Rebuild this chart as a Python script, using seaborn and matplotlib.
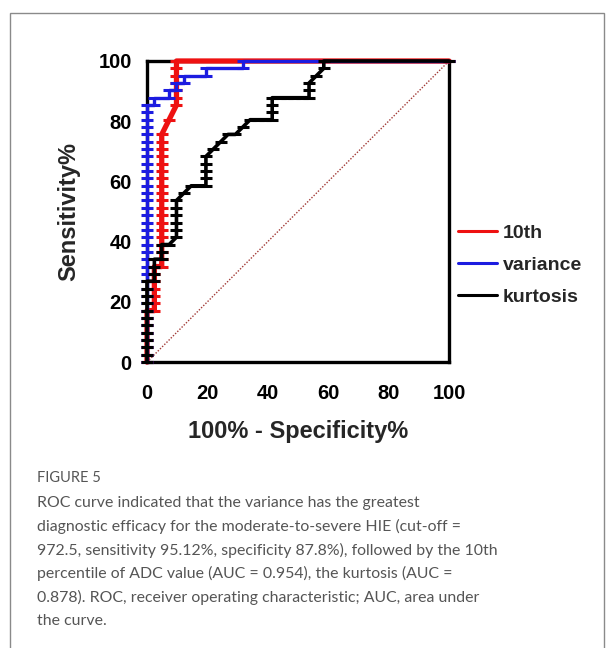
import matplotlib
matplotlib.use("Agg")
import matplotlib.pyplot as plt
from matplotlib.lines import Line2D
from matplotlib.patches import Rectangle
import seaborn as sns
import pandas as pd

# ---------------- data (% values) ----------------
p10_fpr = [0, 0, 0, 0, 0, 0, 0, 0,
           2.44, 2.44, 2.44, 2.44, 2.44, 2.44, 2.44,
           4.88, 4.88, 4.88, 4.88, 4.88, 4.88, 4.88, 4.88, 4.88, 4.88,
           4.88, 4.88, 4.88, 4.88, 4.88, 4.88, 4.88, 4.88, 4.88,
           7.32, 9.76, 9.76, 9.76, 9.76, 9.76, 9.76, 9.76, 100]
p10_tpr = [0, 2.44, 4.88, 7.32, 9.76, 12.2, 14.63, 17.07,
           17.07, 19.51, 21.95, 24.39, 26.83, 29.27, 31.71,
           31.71, 34.15, 36.59, 39.02, 41.46, 43.9, 46.34, 48.78, 51.22, 53.66,
           56.1, 58.54, 60.98, 63.41, 65.85, 68.29, 70.73, 73.17, 75.61,
           80.49, 85.37, 87.8, 90.24, 92.68, 95.12, 97.56, 100, 100]

var_fpr = [0, 0, 0, 0, 0, 0, 0, 0, 0, 0, 0, 0,
           0, 0, 0, 0, 0, 0, 0, 0, 0, 0, 0, 0,
           0, 0, 0, 0, 0, 0, 0, 0, 0, 0, 0, 0,
           2.44, 2.44, 7.32, 7.32, 9.76, 9.76, 12.2, 12.2,
           19.51, 19.51, 31.71, 31.71, 100]
var_tpr = [0, 2.44, 4.88, 7.32, 9.76, 12.2, 14.63, 17.07, 19.51, 21.95, 24.39, 26.83,
           29.27, 31.71, 34.15, 36.59, 39.02, 41.46, 43.9, 46.34, 48.78, 51.22, 53.66, 56.1,
           58.54, 60.98, 63.41, 65.85, 68.29, 70.73, 73.17, 75.61, 78.05, 80.49, 82.93, 85.37,
           85.37, 87.8, 87.8, 90.24, 90.24, 92.68, 92.68, 95.12,
           95.12, 97.56, 97.56, 100, 100]

kurt_fpr = [0, 0, 0, 0, 0, 0, 0, 0, 0, 0, 0, 0,
            2.44, 2.44, 2.44, 2.44,
            4.88, 4.88, 4.88,
            7.32,
            9.76, 9.76, 9.76, 9.76, 9.76, 9.76,
            12.2, 14.63, 17.07,
            19.51, 19.51, 19.51, 19.51, 19.51,
            21.95, 24.39, 26.83, 29.27, 31.71, 34.15,
            36.59, 39.02, 41.46, 41.46, 41.46, 41.46,
            43.9, 46.34, 48.78, 51.22, 53.66, 53.66, 53.66,
            56.1, 58.54, 58.54, 100]
kurt_tpr = [0, 2.44, 4.88, 7.32, 9.76, 12.2, 14.63, 17.07, 19.51, 21.95, 24.39, 26.83,
            26.83, 29.27, 31.71, 34.15,
            34.15, 36.59, 39.02,
            39.02,
            41.46, 43.9, 46.34, 48.78, 51.22, 53.66,
            56.1, 58.54, 58.54,
            58.54, 60.98, 63.41, 65.85, 68.29,
            70.73, 73.17, 75.61, 75.61, 78.05, 80.49,
            80.49, 80.49, 80.49, 82.93, 85.37, 87.8,
            87.8, 87.8, 87.8, 87.8, 87.8, 90.24, 92.68,
            95.12, 97.56, 100, 100]

chance_x = [0, 100]
chance_y = [0, 100]

series_names = ["10th", "variance", "kurtosis"]
series_colors = ["#ee1111", "#1c1ce0", "#000000"]

x_ticks = [0, 20, 40, 60, 80, 100]
y_ticks = [0, 20, 40, 60, 80, 100]

caption_head = "FIGURE 5"
caption_lines = [
    "ROC curve indicated that the variance has the greatest",
    "diagnostic efficacy for the moderate-to-severe HIE (cut-off =",
    "972.5, sensitivity 95.12%, specificity 87.8%), followed by the 10th",
    "percentile of ADC value (AUC = 0.954), the kurtosis (AUC =",
    "0.878). ROC, receiver operating characteristic; AUC, area under",
    "the curve.",
]

# ---------------- figure ----------------
sns.set_style("white")
plt.rcParams["font.family"] = ["Liberation Sans", "DejaVu Sans"]

W, H = 616, 648
fig = plt.figure(figsize=(W / 100, H / 100), dpi=100)
fig.patch.set_facecolor("white")

# outer frame of the figure panel
fig.add_artist(Rectangle((9.5 / W, -0.01), (604 - 9.5) / W, 1 - 12.5 / H + 0.01,
                         transform=fig.transFigure, fill=False,
                         edgecolor="#8a8a8a", linewidth=1.0))

ax = fig.add_axes([147 / W, 1 - 362 / H, 302 / W, 301 / H])

ax.plot(chance_x, chance_y, linestyle=(0, (1, 1.2)), color="#a23a36",
        linewidth=1.0, zorder=2)

curves = [
    (p10_fpr, p10_tpr, series_colors[0], 3.8, 3),
    (var_fpr, var_tpr, series_colors[1], 2.4, 4),
    (kurt_fpr, kurt_tpr, series_colors[2], 2.6, 5),
]
for fx, ty, col, lw, z in curves:
    df = pd.DataFrame({"fpr": fx, "tpr": ty})
    sns.lineplot(data=df, x="fpr", y="tpr", sort=False, estimator=None,
                 color=col, linewidth=lw, marker="_", markersize=9,
                 markeredgewidth=2.2, markeredgecolor=col,
                 clip_on=False, zorder=z, ax=ax, legend=False)

ax.set_xlim(0, 100)
ax.set_ylim(0, 100)
ax.set_xticks(x_ticks)
ax.set_yticks(y_ticks)
for s in ax.spines.values():
    s.set_visible(True)
    s.set_color("black")
    s.set_linewidth(2.4)
    s.set_zorder(1)
ax.tick_params(axis="both", direction="out", length=8, width=2.4,
               labelsize=14.5, colors="black")
ax.tick_params(axis="x", pad=8)
ax.tick_params(axis="y", pad=3)
for lbl in ax.get_xticklabels() + ax.get_yticklabels():
    lbl.set_fontweight("bold")

ax.set_xlabel("100% - Specificity%", fontsize=17, fontweight="bold", labelpad=12)
ax.set_ylabel("Sensitivity%", fontsize=17, fontweight="bold", labelpad=13)
ax.set_facecolor("white")

handles = [Line2D([0], [0], color=c, linewidth=2.2) for c in series_colors]
fig.legend(handles, series_names, loc="upper left",
           bbox_to_anchor=(458 / W, 1 - 224 / H), frameon=False,
           prop={"family": "Liberation Sans", "weight": "bold", "size": 14},
           handlelength=2.0, handletextpad=0.3, labelspacing=0.75,
           borderpad=0, borderaxespad=0)

# caption
fig.text(37 / W, 1 - 478 / H, caption_head, fontsize=10.5, color="#555555",
         family=["Lato", "DejaVu Sans"], va="center", ha="left")
y0 = 503
for i, line in enumerate(caption_lines):
    fig.text(37 / W, 1 - (y0 + i * 23.6) / H, line, fontsize=11.4,
             color="#555555", family=["Lato", "DejaVu Sans"],
             va="center", ha="left")

fig.savefig("out.png", dpi=100, facecolor="white")
